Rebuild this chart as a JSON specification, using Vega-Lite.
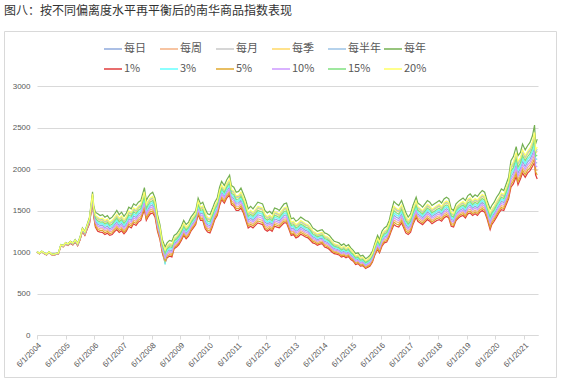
{
"$schema":"https://vega.github.io/schema/vega-lite/v6.json",
"width":552,"height":346,
"autosize":"none",
"padding":{"left":4,"top":31,"right":6,"bottom":7},
"background":"white",
"config":{"view":{"stroke":"#d9d9d9","strokeWidth":1},"font":"Noto Sans CJK SC"},
"title":{"text":"图八：按不同偏离度水平再平衡后的南华商品指数表现","anchor":"start","frame":"group","offset":13,"fontSize":12,"fontWeight":"normal","color":"#333333","font":"Noto Sans CJK SC"},
"data":{"values":[
{"t":"2004-06-01","a":1002,"b":1001,"c":1003,"d":1004,"e":1004,"f":1005,"g":1000,"h":1003,"i":1001,"j":1002,"k":1003,"l":1004},
{"t":"2004-07-01","a":981,"b":979,"c":982,"d":983,"e":983,"f":985,"g":978,"h":982,"i":979,"j":980,"k":982,"l":984},
{"t":"2004-08-01","a":1004,"b":1002,"c":1005,"d":1007,"e":1008,"f":1010,"g":1000,"h":1005,"i":1001,"j":1003,"k":1006,"l":1008},
{"t":"2004-09-01","a":984,"b":982,"c":985,"d":987,"e":988,"f":990,"g":980,"h":985,"i":981,"j":983,"k":986,"l":988},
{"t":"2004-10-01","a":969,"b":967,"c":970,"d":972,"e":973,"f":975,"g":965,"h":970,"i":966,"j":968,"k":971,"l":973},
{"t":"2004-11-01","a":997,"b":995,"c":999,"d":1001,"e":1002,"f":1005,"g":992,"h":999,"i":993,"j":996,"k":1000,"l":1002},
{"t":"2004-12-01","a":973,"b":970,"c":974,"d":976,"e":977,"f":980,"g":968,"h":974,"i":969,"j":972,"k":975,"l":978},
{"t":"2005-01-01","a":967,"b":965,"c":969,"d":971,"e":972,"f":975,"g":962,"h":969,"i":963,"j":966,"k":970,"l":972},
{"t":"2005-02-01","a":976,"b":973,"c":978,"d":981,"e":981,"f":985,"g":970,"h":978,"i":972,"j":975,"k":979,"l":982},
{"t":"2005-03-01","a":981,"b":978,"c":983,"d":986,"e":986,"f":990,"g":975,"h":983,"i":977,"j":980,"k":984,"l":987},
{"t":"2005-04-01","a":1079,"b":1076,"c":1081,"d":1085,"e":1086,"f":1090,"g":1072,"h":1081,"i":1074,"j":1077,"k":1083,"l":1086},
{"t":"2005-05-01","a":1069,"b":1066,"c":1071,"d":1075,"e":1076,"f":1080,"g":1062,"h":1071,"i":1064,"j":1067,"k":1073,"l":1076},
{"t":"2005-06-01","a":1103,"b":1099,"c":1105,"d":1109,"e":1110,"f":1115,"g":1095,"h":1105,"i":1097,"j":1101,"k":1107,"l":1111},
{"t":"2005-07-01","a":1087,"b":1082,"c":1089,"d":1093,"e":1095,"f":1100,"g":1078,"h":1089,"i":1080,"j":1085,"k":1091,"l":1096},
{"t":"2005-08-01","a":1115,"b":1110,"c":1118,"d":1123,"e":1124,"f":1130,"g":1105,"h":1118,"i":1108,"j":1113,"k":1120,"l":1125},
{"t":"2005-09-01","a":1095,"b":1090,"c":1098,"d":1103,"e":1104,"f":1110,"g":1085,"h":1098,"i":1088,"j":1093,"k":1100,"l":1105},
{"t":"2005-10-01","a":1132,"b":1126,"c":1135,"d":1141,"e":1143,"f":1150,"g":1120,"h":1135,"i":1123,"j":1129,"k":1138,"l":1144},
{"t":"2005-11-01","a":1087,"b":1081,"c":1090,"d":1096,"e":1098,"f":1105,"g":1075,"h":1090,"i":1078,"j":1084,"k":1093,"l":1099},
{"t":"2005-12-01","a":1159,"b":1152,"c":1163,"d":1170,"e":1171,"f":1180,"g":1145,"h":1163,"i":1149,"j":1156,"k":1166,"l":1173},
{"t":"2006-01-01","a":1263,"b":1254,"c":1268,"d":1277,"e":1279,"f":1290,"g":1245,"h":1268,"i":1250,"j":1259,"k":1272,"l":1281},
{"t":"2006-02-01","a":1220,"b":1210,"c":1225,"d":1235,"e":1238,"f":1250,"g":1200,"h":1225,"i":1205,"j":1215,"k":1230,"l":1240},
{"t":"2006-03-01","a":1294,"b":1282,"c":1300,"d":1312,"e":1315,"f":1330,"g":1270,"h":1300,"i":1276,"j":1288,"k":1306,"l":1318},
{"t":"2006-04-01","a":1372,"b":1356,"c":1380,"d":1396,"e":1400,"f":1420,"g":1340,"h":1380,"i":1348,"j":1364,"k":1388,"l":1404},
{"t":"2006-05-10","a":1650,"b":1625,"c":1663,"d":1688,"e":1694,"f":1725,"g":1600,"h":1663,"i":1613,"j":1638,"k":1675,"l":1700},
{"t":"2006-05-25","a":1482,"b":1456,"c":1495,"d":1521,"e":1528,"f":1560,"g":1430,"h":1495,"i":1443,"j":1469,"k":1508,"l":1534},
{"t":"2006-06-15","a":1372,"b":1336,"c":1390,"d":1426,"e":1435,"f":1480,"g":1300,"h":1390,"i":1318,"j":1354,"k":1408,"l":1444},
{"t":"2006-07-15","a":1334,"b":1292,"c":1355,"d":1397,"e":1408,"f":1460,"g":1250,"h":1355,"i":1271,"j":1313,"k":1376,"l":1418},
{"t":"2006-08-15","a":1320,"b":1280,"c":1340,"d":1380,"e":1390,"f":1440,"g":1240,"h":1340,"i":1260,"j":1300,"k":1360,"l":1400},
{"t":"2006-09-15","a":1321,"b":1278,"c":1343,"d":1386,"e":1396,"f":1450,"g":1235,"h":1343,"i":1257,"j":1300,"k":1364,"l":1407},
{"t":"2006-10-15","a":1294,"b":1252,"c":1315,"d":1357,"e":1368,"f":1420,"g":1210,"h":1315,"i":1231,"j":1273,"k":1336,"l":1378},
{"t":"2006-11-15","a":1311,"b":1268,"c":1333,"d":1376,"e":1386,"f":1440,"g":1225,"h":1333,"i":1247,"j":1290,"k":1354,"l":1397},
{"t":"2006-12-15","a":1280,"b":1240,"c":1300,"d":1340,"e":1350,"f":1400,"g":1200,"h":1300,"i":1220,"j":1260,"k":1320,"l":1360},
{"t":"2007-01-15","a":1294,"b":1252,"c":1315,"d":1357,"e":1368,"f":1420,"g":1210,"h":1315,"i":1231,"j":1273,"k":1336,"l":1378},
{"t":"2007-02-15","a":1331,"b":1288,"c":1353,"d":1396,"e":1406,"f":1460,"g":1245,"h":1353,"i":1267,"j":1310,"k":1374,"l":1417},
{"t":"2007-03-15","a":1362,"b":1316,"c":1385,"d":1431,"e":1443,"f":1500,"g":1270,"h":1385,"i":1293,"j":1339,"k":1408,"l":1454},
{"t":"2007-04-15","a":1321,"b":1278,"c":1343,"d":1386,"e":1396,"f":1450,"g":1235,"h":1343,"i":1257,"j":1300,"k":1364,"l":1407},
{"t":"2007-05-15","a":1345,"b":1300,"c":1368,"d":1413,"e":1424,"f":1480,"g":1255,"h":1368,"i":1278,"j":1323,"k":1390,"l":1435},
{"t":"2007-06-15","a":1304,"b":1262,"c":1325,"d":1367,"e":1378,"f":1430,"g":1220,"h":1325,"i":1241,"j":1283,"k":1346,"l":1388},
{"t":"2007-07-15","a":1338,"b":1294,"c":1360,"d":1404,"e":1415,"f":1470,"g":1250,"h":1360,"i":1272,"j":1316,"k":1382,"l":1426},
{"t":"2007-08-15","a":1402,"b":1356,"c":1425,"d":1471,"e":1483,"f":1540,"g":1310,"h":1425,"i":1333,"j":1379,"k":1448,"l":1494},
{"t":"2007-09-15","a":1382,"b":1336,"c":1405,"d":1451,"e":1463,"f":1520,"g":1290,"h":1405,"i":1313,"j":1359,"k":1428,"l":1474},
{"t":"2007-10-15","a":1436,"b":1388,"c":1460,"d":1508,"e":1520,"f":1580,"g":1340,"h":1460,"i":1364,"j":1412,"k":1484,"l":1532},
{"t":"2007-11-15","a":1416,"b":1368,"c":1440,"d":1488,"e":1500,"f":1560,"g":1320,"h":1440,"i":1344,"j":1392,"k":1464,"l":1512},
{"t":"2007-12-15","a":1456,"b":1408,"c":1480,"d":1528,"e":1540,"f":1600,"g":1360,"h":1480,"i":1384,"j":1432,"k":1504,"l":1552},
{"t":"2008-01-15","a":1476,"b":1428,"c":1500,"d":1548,"e":1560,"f":1620,"g":1380,"h":1500,"i":1404,"j":1452,"k":1524,"l":1572},
{"t":"2008-03-01","a":1616,"b":1563,"c":1643,"d":1696,"e":1709,"f":1775,"g":1510,"h":1643,"i":1537,"j":1590,"k":1669,"l":1722},
{"t":"2008-03-25","a":1476,"b":1428,"c":1500,"d":1548,"e":1560,"f":1620,"g":1380,"h":1500,"i":1404,"j":1452,"k":1524,"l":1572},
{"t":"2008-04-15","a":1516,"b":1468,"c":1540,"d":1588,"e":1600,"f":1660,"g":1420,"h":1540,"i":1444,"j":1492,"k":1564,"l":1612},
{"t":"2008-05-15","a":1556,"b":1508,"c":1580,"d":1628,"e":1640,"f":1700,"g":1460,"h":1580,"i":1484,"j":1532,"k":1604,"l":1652},
{"t":"2008-06-15","a":1570,"b":1520,"c":1595,"d":1645,"e":1658,"f":1720,"g":1470,"h":1595,"i":1495,"j":1545,"k":1620,"l":1670},
{"t":"2008-07-15","a":1512,"b":1466,"c":1535,"d":1581,"e":1593,"f":1650,"g":1420,"h":1535,"i":1443,"j":1489,"k":1558,"l":1604},
{"t":"2008-08-15","a":1330,"b":1290,"c":1350,"d":1390,"e":1400,"f":1450,"g":1250,"h":1350,"i":1270,"j":1310,"k":1370,"l":1410},
{"t":"2008-09-15","a":1222,"b":1186,"c":1240,"d":1276,"e":1285,"f":1330,"g":1150,"h":1240,"i":1168,"j":1204,"k":1258,"l":1294},
{"t":"2008-10-15","a":1054,"b":1022,"c":1070,"d":1102,"e":1110,"f":1150,"g":990,"h":1070,"i":1006,"j":1038,"k":1086,"l":1118},
{"t":"2008-11-20","a":946,"b":908,"c":965,"d":1003,"e":1013,"f":1060,"g":870,"h":850,"i":889,"j":927,"k":984,"l":1022},
{"t":"2008-12-15","a":1002,"b":966,"c":1020,"d":1056,"e":1065,"f":1110,"g":930,"h":1020,"i":948,"j":984,"k":1038,"l":1074},
{"t":"2009-01-15","a":1026,"b":988,"c":1045,"d":1083,"e":1093,"f":1140,"g":950,"h":1045,"i":969,"j":1007,"k":1064,"l":1102},
{"t":"2009-02-15","a":1016,"b":978,"c":1035,"d":1073,"e":1083,"f":1130,"g":940,"h":1035,"i":959,"j":997,"k":1054,"l":1092},
{"t":"2009-03-15","a":1104,"b":1072,"c":1120,"d":1152,"e":1160,"f":1200,"g":1040,"h":1120,"i":1056,"j":1088,"k":1136,"l":1168},
{"t":"2009-04-15","a":1124,"b":1092,"c":1140,"d":1172,"e":1180,"f":1220,"g":1060,"h":1140,"i":1076,"j":1108,"k":1156,"l":1188},
{"t":"2009-05-15","a":1158,"b":1124,"c":1175,"d":1209,"e":1218,"f":1260,"g":1090,"h":1175,"i":1107,"j":1141,"k":1192,"l":1226},
{"t":"2009-06-15","a":1208,"b":1174,"c":1225,"d":1259,"e":1268,"f":1310,"g":1140,"h":1225,"i":1157,"j":1191,"k":1242,"l":1276},
{"t":"2009-07-15","a":1272,"b":1236,"c":1290,"d":1326,"e":1335,"f":1380,"g":1200,"h":1290,"i":1218,"j":1254,"k":1308,"l":1344},
{"t":"2009-08-15","a":1228,"b":1194,"c":1245,"d":1279,"e":1288,"f":1330,"g":1160,"h":1245,"i":1177,"j":1211,"k":1262,"l":1296},
{"t":"2009-09-15","a":1258,"b":1224,"c":1275,"d":1309,"e":1318,"f":1360,"g":1190,"h":1275,"i":1207,"j":1241,"k":1292,"l":1326},
{"t":"2009-10-15","a":1318,"b":1284,"c":1335,"d":1369,"e":1378,"f":1420,"g":1250,"h":1335,"i":1267,"j":1301,"k":1352,"l":1386},
{"t":"2009-11-15","a":1358,"b":1324,"c":1375,"d":1409,"e":1418,"f":1460,"g":1290,"h":1375,"i":1307,"j":1341,"k":1392,"l":1426},
{"t":"2009-12-15","a":1398,"b":1364,"c":1415,"d":1449,"e":1458,"f":1500,"g":1330,"h":1415,"i":1347,"j":1381,"k":1432,"l":1466},
{"t":"2010-01-15","a":1530,"b":1490,"c":1550,"d":1590,"e":1600,"f":1650,"g":1450,"h":1550,"i":1470,"j":1510,"k":1570,"l":1610},
{"t":"2010-02-15","a":1460,"b":1420,"c":1480,"d":1520,"e":1530,"f":1580,"g":1380,"h":1480,"i":1400,"j":1440,"k":1500,"l":1540},
{"t":"2010-03-15","a":1468,"b":1424,"c":1490,"d":1534,"e":1545,"f":1600,"g":1380,"h":1490,"i":1402,"j":1446,"k":1512,"l":1556},
{"t":"2010-04-15","a":1376,"b":1328,"c":1400,"d":1448,"e":1460,"f":1520,"g":1280,"h":1400,"i":1304,"j":1352,"k":1424,"l":1472},
{"t":"2010-05-15","a":1328,"b":1284,"c":1350,"d":1394,"e":1405,"f":1460,"g":1240,"h":1350,"i":1262,"j":1306,"k":1372,"l":1416},
{"t":"2010-06-15","a":1318,"b":1274,"c":1340,"d":1384,"e":1395,"f":1450,"g":1230,"h":1340,"i":1252,"j":1296,"k":1362,"l":1406},
{"t":"2010-07-15","a":1388,"b":1344,"c":1410,"d":1454,"e":1465,"f":1520,"g":1300,"h":1410,"i":1322,"j":1366,"k":1432,"l":1476},
{"t":"2010-08-15","a":1474,"b":1432,"c":1495,"d":1537,"e":1548,"f":1600,"g":1390,"h":1495,"i":1411,"j":1453,"k":1516,"l":1558},
{"t":"2010-09-15","a":1524,"b":1482,"c":1545,"d":1587,"e":1598,"f":1650,"g":1440,"h":1545,"i":1461,"j":1503,"k":1566,"l":1608},
{"t":"2010-10-15","a":1648,"b":1604,"c":1670,"d":1714,"e":1725,"f":1780,"g":1560,"h":1670,"i":1582,"j":1626,"k":1692,"l":1736},
{"t":"2010-11-10","a":1718,"b":1674,"c":1740,"d":1784,"e":1795,"f":1850,"g":1630,"h":1740,"i":1652,"j":1696,"k":1762,"l":1806},
{"t":"2010-12-15","a":1674,"b":1632,"c":1695,"d":1737,"e":1748,"f":1800,"g":1590,"h":1695,"i":1611,"j":1653,"k":1716,"l":1758},
{"t":"2011-01-15","a":1738,"b":1694,"c":1760,"d":1804,"e":1815,"f":1870,"g":1650,"h":1760,"i":1672,"j":1716,"k":1782,"l":1826},
{"t":"2011-02-20","a":1784,"b":1737,"c":1808,"d":1855,"e":1866,"f":1925,"g":1690,"h":1808,"i":1714,"j":1761,"k":1831,"l":1878},
{"t":"2011-03-15","a":1662,"b":1616,"c":1685,"d":1731,"e":1743,"f":1800,"g":1570,"h":1685,"i":1593,"j":1639,"k":1708,"l":1754},
{"t":"2011-04-15","a":1642,"b":1596,"c":1665,"d":1711,"e":1723,"f":1780,"g":1550,"h":1665,"i":1573,"j":1619,"k":1688,"l":1734},
{"t":"2011-05-15","a":1588,"b":1544,"c":1610,"d":1654,"e":1665,"f":1720,"g":1500,"h":1610,"i":1522,"j":1566,"k":1632,"l":1676},
{"t":"2011-06-15","a":1592,"b":1546,"c":1615,"d":1661,"e":1673,"f":1730,"g":1500,"h":1615,"i":1523,"j":1569,"k":1638,"l":1684},
{"t":"2011-07-15","a":1626,"b":1578,"c":1650,"d":1698,"e":1710,"f":1770,"g":1530,"h":1650,"i":1554,"j":1602,"k":1674,"l":1722},
{"t":"2011-08-15","a":1562,"b":1516,"c":1585,"d":1631,"e":1643,"f":1700,"g":1470,"h":1585,"i":1493,"j":1539,"k":1608,"l":1654},
{"t":"2011-09-15","a":1476,"b":1428,"c":1500,"d":1548,"e":1560,"f":1620,"g":1380,"h":1500,"i":1404,"j":1452,"k":1524,"l":1572},
{"t":"2011-10-15","a":1382,"b":1336,"c":1405,"d":1451,"e":1463,"f":1520,"g":1290,"h":1405,"i":1313,"j":1359,"k":1428,"l":1474},
{"t":"2011-11-15","a":1406,"b":1358,"c":1430,"d":1478,"e":1490,"f":1550,"g":1310,"h":1430,"i":1334,"j":1382,"k":1454,"l":1502},
{"t":"2011-12-15","a":1382,"b":1336,"c":1405,"d":1451,"e":1463,"f":1520,"g":1290,"h":1405,"i":1313,"j":1359,"k":1428,"l":1474},
{"t":"2012-01-15","a":1416,"b":1368,"c":1440,"d":1488,"e":1500,"f":1560,"g":1320,"h":1440,"i":1344,"j":1392,"k":1464,"l":1512},
{"t":"2012-02-15","a":1450,"b":1400,"c":1475,"d":1525,"e":1538,"f":1600,"g":1350,"h":1475,"i":1375,"j":1425,"k":1500,"l":1550},
{"t":"2012-03-15","a":1440,"b":1390,"c":1465,"d":1515,"e":1528,"f":1590,"g":1340,"h":1465,"i":1365,"j":1415,"k":1490,"l":1540},
{"t":"2012-04-15","a":1430,"b":1380,"c":1455,"d":1505,"e":1518,"f":1580,"g":1330,"h":1455,"i":1355,"j":1405,"k":1480,"l":1530},
{"t":"2012-05-15","a":1362,"b":1316,"c":1385,"d":1431,"e":1443,"f":1500,"g":1270,"h":1385,"i":1293,"j":1339,"k":1408,"l":1454},
{"t":"2012-06-15","a":1338,"b":1294,"c":1360,"d":1404,"e":1415,"f":1470,"g":1250,"h":1360,"i":1272,"j":1316,"k":1382,"l":1426},
{"t":"2012-07-15","a":1358,"b":1314,"c":1380,"d":1424,"e":1435,"f":1490,"g":1270,"h":1380,"i":1292,"j":1336,"k":1402,"l":1446},
{"t":"2012-08-15","a":1334,"b":1292,"c":1355,"d":1397,"e":1408,"f":1460,"g":1250,"h":1355,"i":1271,"j":1313,"k":1376,"l":1418},
{"t":"2012-09-15","a":1398,"b":1354,"c":1420,"d":1464,"e":1475,"f":1530,"g":1310,"h":1420,"i":1332,"j":1376,"k":1442,"l":1486},
{"t":"2012-10-15","a":1388,"b":1344,"c":1410,"d":1454,"e":1465,"f":1520,"g":1300,"h":1410,"i":1322,"j":1366,"k":1432,"l":1476},
{"t":"2012-11-15","a":1374,"b":1332,"c":1395,"d":1437,"e":1448,"f":1500,"g":1290,"h":1395,"i":1311,"j":1353,"k":1416,"l":1458},
{"t":"2012-12-15","a":1408,"b":1364,"c":1430,"d":1474,"e":1485,"f":1540,"g":1320,"h":1430,"i":1342,"j":1386,"k":1452,"l":1496},
{"t":"2013-01-15","a":1442,"b":1396,"c":1465,"d":1511,"e":1523,"f":1580,"g":1350,"h":1465,"i":1373,"j":1419,"k":1488,"l":1534},
{"t":"2013-02-15","a":1446,"b":1398,"c":1470,"d":1518,"e":1530,"f":1590,"g":1350,"h":1470,"i":1374,"j":1422,"k":1494,"l":1542},
{"t":"2013-03-15","a":1368,"b":1324,"c":1390,"d":1434,"e":1445,"f":1500,"g":1280,"h":1390,"i":1302,"j":1346,"k":1412,"l":1456},
{"t":"2013-04-15","a":1280,"b":1240,"c":1300,"d":1340,"e":1350,"f":1400,"g":1200,"h":1300,"i":1220,"j":1260,"k":1320,"l":1360},
{"t":"2013-05-15","a":1290,"b":1250,"c":1310,"d":1350,"e":1360,"f":1410,"g":1210,"h":1310,"i":1230,"j":1270,"k":1330,"l":1370},
{"t":"2013-06-15","a":1250,"b":1210,"c":1270,"d":1310,"e":1320,"f":1370,"g":1170,"h":1270,"i":1190,"j":1230,"k":1290,"l":1330},
{"t":"2013-07-15","a":1267,"b":1226,"c":1288,"d":1329,"e":1339,"f":1390,"g":1185,"h":1288,"i":1206,"j":1247,"k":1308,"l":1349},
{"t":"2013-08-15","a":1297,"b":1256,"c":1318,"d":1359,"e":1369,"f":1420,"g":1215,"h":1318,"i":1236,"j":1277,"k":1338,"l":1379},
{"t":"2013-09-15","a":1280,"b":1240,"c":1300,"d":1340,"e":1350,"f":1400,"g":1200,"h":1300,"i":1220,"j":1260,"k":1320,"l":1360},
{"t":"2013-10-15","a":1260,"b":1220,"c":1280,"d":1320,"e":1330,"f":1380,"g":1180,"h":1280,"i":1200,"j":1240,"k":1300,"l":1340},
{"t":"2013-11-15","a":1250,"b":1210,"c":1270,"d":1310,"e":1320,"f":1370,"g":1170,"h":1270,"i":1190,"j":1230,"k":1290,"l":1330},
{"t":"2013-12-15","a":1220,"b":1180,"c":1240,"d":1280,"e":1290,"f":1340,"g":1140,"h":1240,"i":1160,"j":1200,"k":1260,"l":1300},
{"t":"2014-01-15","a":1182,"b":1146,"c":1200,"d":1236,"e":1245,"f":1290,"g":1110,"h":1200,"i":1128,"j":1164,"k":1218,"l":1254},
{"t":"2014-02-15","a":1168,"b":1134,"c":1185,"d":1219,"e":1228,"f":1270,"g":1100,"h":1185,"i":1117,"j":1151,"k":1202,"l":1236},
{"t":"2014-03-15","a":1148,"b":1114,"c":1165,"d":1199,"e":1208,"f":1250,"g":1080,"h":1165,"i":1097,"j":1131,"k":1182,"l":1216},
{"t":"2014-04-15","a":1161,"b":1128,"c":1178,"d":1211,"e":1219,"f":1260,"g":1095,"h":1178,"i":1112,"j":1145,"k":1194,"l":1227},
{"t":"2014-05-15","a":1168,"b":1134,"c":1185,"d":1219,"e":1228,"f":1270,"g":1100,"h":1185,"i":1117,"j":1151,"k":1202,"l":1236},
{"t":"2014-06-15","a":1128,"b":1094,"c":1145,"d":1179,"e":1188,"f":1230,"g":1060,"h":1145,"i":1077,"j":1111,"k":1162,"l":1196},
{"t":"2014-07-15","a":1118,"b":1084,"c":1135,"d":1169,"e":1178,"f":1220,"g":1050,"h":1135,"i":1067,"j":1101,"k":1152,"l":1186},
{"t":"2014-08-15","a":1098,"b":1064,"c":1115,"d":1149,"e":1158,"f":1200,"g":1030,"h":1115,"i":1047,"j":1081,"k":1132,"l":1166},
{"t":"2014-09-15","a":1064,"b":1032,"c":1080,"d":1112,"e":1120,"f":1160,"g":1000,"h":1080,"i":1016,"j":1048,"k":1096,"l":1128},
{"t":"2014-10-15","a":1040,"b":1010,"c":1055,"d":1085,"e":1093,"f":1130,"g":980,"h":1055,"i":995,"j":1025,"k":1070,"l":1100},
{"t":"2014-11-15","a":1033,"b":1004,"c":1048,"d":1077,"e":1084,"f":1120,"g":975,"h":1048,"i":990,"j":1019,"k":1062,"l":1091},
{"t":"2014-12-15","a":1023,"b":994,"c":1038,"d":1067,"e":1074,"f":1110,"g":965,"h":1038,"i":980,"j":1009,"k":1052,"l":1081},
{"t":"2015-01-15","a":996,"b":968,"c":1010,"d":1038,"e":1045,"f":1080,"g":940,"h":1010,"i":954,"j":982,"k":1024,"l":1052},
{"t":"2015-02-15","a":1010,"b":980,"c":1025,"d":1055,"e":1063,"f":1100,"g":950,"h":1025,"i":965,"j":995,"k":1040,"l":1070},
{"t":"2015-03-15","a":986,"b":958,"c":1000,"d":1028,"e":1035,"f":1070,"g":930,"h":1000,"i":944,"j":972,"k":1014,"l":1042},
{"t":"2015-04-15","a":1003,"b":974,"c":1018,"d":1047,"e":1054,"f":1090,"g":945,"h":1018,"i":960,"j":989,"k":1032,"l":1061},
{"t":"2015-05-15","a":966,"b":938,"c":980,"d":1008,"e":1015,"f":1050,"g":910,"h":980,"i":924,"j":952,"k":994,"l":1022},
{"t":"2015-06-15","a":942,"b":916,"c":955,"d":981,"e":988,"f":1020,"g":890,"h":955,"i":903,"j":929,"k":968,"l":994},
{"t":"2015-07-15","a":902,"b":876,"c":915,"d":941,"e":948,"f":980,"g":850,"h":915,"i":863,"j":889,"k":928,"l":954},
{"t":"2015-08-15","a":912,"b":886,"c":925,"d":951,"e":958,"f":990,"g":860,"h":925,"i":873,"j":899,"k":938,"l":964},
{"t":"2015-09-15","a":878,"b":854,"c":890,"d":914,"e":920,"f":950,"g":830,"h":890,"i":842,"j":866,"k":902,"l":926},
{"t":"2015-10-15","a":885,"b":860,"c":898,"d":923,"e":929,"f":960,"g":835,"h":898,"i":848,"j":873,"k":910,"l":935},
{"t":"2015-11-20","a":848,"b":824,"c":860,"d":884,"e":890,"f":920,"g":800,"h":860,"i":812,"j":836,"k":872,"l":896},
{"t":"2015-12-15","a":863,"b":839,"c":875,"d":899,"e":905,"f":935,"g":815,"h":875,"i":827,"j":851,"k":887,"l":911},
{"t":"2016-01-15","a":882,"b":856,"c":895,"d":921,"e":928,"f":960,"g":830,"h":895,"i":843,"j":869,"k":908,"l":934},
{"t":"2016-02-15","a":932,"b":906,"c":945,"d":971,"e":978,"f":1010,"g":880,"h":945,"i":893,"j":919,"k":958,"l":984},
{"t":"2016-03-15","a":1016,"b":988,"c":1030,"d":1058,"e":1065,"f":1100,"g":960,"h":1030,"i":974,"j":1002,"k":1044,"l":1072},
{"t":"2016-04-20","a":1098,"b":1064,"c":1115,"d":1149,"e":1158,"f":1200,"g":1030,"h":1115,"i":1047,"j":1081,"k":1132,"l":1166},
{"t":"2016-05-15","a":1054,"b":1022,"c":1070,"d":1102,"e":1110,"f":1150,"g":990,"h":1070,"i":1006,"j":1038,"k":1086,"l":1118},
{"t":"2016-06-15","a":1142,"b":1106,"c":1160,"d":1196,"e":1205,"f":1250,"g":1070,"h":1160,"i":1088,"j":1124,"k":1178,"l":1214},
{"t":"2016-07-15","a":1182,"b":1146,"c":1200,"d":1236,"e":1245,"f":1290,"g":1110,"h":1200,"i":1128,"j":1164,"k":1218,"l":1254},
{"t":"2016-08-15","a":1196,"b":1158,"c":1215,"d":1253,"e":1263,"f":1310,"g":1120,"h":1215,"i":1139,"j":1177,"k":1234,"l":1272},
{"t":"2016-09-15","a":1260,"b":1220,"c":1280,"d":1320,"e":1330,"f":1380,"g":1180,"h":1280,"i":1200,"j":1240,"k":1300,"l":1340},
{"t":"2016-10-15","a":1356,"b":1308,"c":1380,"d":1428,"e":1440,"f":1500,"g":1260,"h":1380,"i":1284,"j":1332,"k":1404,"l":1452},
{"t":"2016-11-15","a":1442,"b":1386,"c":1470,"d":1526,"e":1540,"f":1610,"g":1330,"h":1470,"i":1358,"j":1414,"k":1498,"l":1554},
{"t":"2016-12-15","a":1418,"b":1364,"c":1445,"d":1499,"e":1513,"f":1580,"g":1310,"h":1445,"i":1337,"j":1391,"k":1472,"l":1526},
{"t":"2017-01-15","a":1404,"b":1352,"c":1430,"d":1482,"e":1495,"f":1560,"g":1300,"h":1430,"i":1326,"j":1378,"k":1456,"l":1508},
{"t":"2017-02-20","a":1458,"b":1404,"c":1485,"d":1539,"e":1553,"f":1620,"g":1350,"h":1485,"i":1377,"j":1431,"k":1512,"l":1566},
{"t":"2017-03-15","a":1404,"b":1352,"c":1430,"d":1482,"e":1495,"f":1560,"g":1300,"h":1430,"i":1326,"j":1378,"k":1456,"l":1508},
{"t":"2017-04-15","a":1330,"b":1280,"c":1355,"d":1405,"e":1418,"f":1480,"g":1230,"h":1355,"i":1255,"j":1305,"k":1380,"l":1430},
{"t":"2017-05-15","a":1294,"b":1252,"c":1315,"d":1357,"e":1368,"f":1420,"g":1210,"h":1315,"i":1231,"j":1273,"k":1336,"l":1378},
{"t":"2017-06-15","a":1328,"b":1284,"c":1350,"d":1394,"e":1405,"f":1460,"g":1240,"h":1350,"i":1262,"j":1306,"k":1372,"l":1416},
{"t":"2017-07-15","a":1422,"b":1376,"c":1445,"d":1491,"e":1503,"f":1560,"g":1330,"h":1445,"i":1353,"j":1399,"k":1468,"l":1514},
{"t":"2017-08-25","a":1516,"b":1468,"c":1540,"d":1588,"e":1600,"f":1660,"g":1420,"h":1540,"i":1444,"j":1492,"k":1564,"l":1612},
{"t":"2017-09-15","a":1458,"b":1414,"c":1480,"d":1524,"e":1535,"f":1590,"g":1370,"h":1480,"i":1392,"j":1436,"k":1502,"l":1546},
{"t":"2017-10-15","a":1438,"b":1394,"c":1460,"d":1504,"e":1515,"f":1570,"g":1350,"h":1460,"i":1372,"j":1416,"k":1482,"l":1526},
{"t":"2017-11-15","a":1414,"b":1372,"c":1435,"d":1477,"e":1488,"f":1540,"g":1330,"h":1435,"i":1351,"j":1393,"k":1456,"l":1498},
{"t":"2017-12-15","a":1448,"b":1404,"c":1470,"d":1514,"e":1525,"f":1580,"g":1360,"h":1470,"i":1382,"j":1426,"k":1492,"l":1536},
{"t":"2018-01-15","a":1482,"b":1436,"c":1505,"d":1551,"e":1563,"f":1620,"g":1390,"h":1505,"i":1413,"j":1459,"k":1528,"l":1574},
{"t":"2018-02-15","a":1462,"b":1416,"c":1485,"d":1531,"e":1543,"f":1600,"g":1370,"h":1485,"i":1393,"j":1439,"k":1508,"l":1554},
{"t":"2018-03-15","a":1428,"b":1384,"c":1450,"d":1494,"e":1505,"f":1560,"g":1340,"h":1450,"i":1362,"j":1406,"k":1472,"l":1516},
{"t":"2018-04-15","a":1448,"b":1404,"c":1470,"d":1514,"e":1525,"f":1580,"g":1360,"h":1470,"i":1382,"j":1426,"k":1492,"l":1536},
{"t":"2018-05-15","a":1468,"b":1424,"c":1490,"d":1534,"e":1545,"f":1600,"g":1380,"h":1490,"i":1402,"j":1446,"k":1512,"l":1556},
{"t":"2018-06-15","a":1482,"b":1436,"c":1505,"d":1551,"e":1563,"f":1620,"g":1390,"h":1505,"i":1413,"j":1459,"k":1528,"l":1574},
{"t":"2018-07-15","a":1458,"b":1414,"c":1480,"d":1524,"e":1535,"f":1590,"g":1370,"h":1480,"i":1392,"j":1436,"k":1502,"l":1546},
{"t":"2018-08-15","a":1502,"b":1456,"c":1525,"d":1571,"e":1583,"f":1640,"g":1410,"h":1525,"i":1433,"j":1479,"k":1548,"l":1594},
{"t":"2018-09-15","a":1522,"b":1476,"c":1545,"d":1591,"e":1603,"f":1660,"g":1430,"h":1545,"i":1453,"j":1499,"k":1568,"l":1614},
{"t":"2018-10-15","a":1502,"b":1456,"c":1525,"d":1571,"e":1583,"f":1640,"g":1410,"h":1525,"i":1433,"j":1479,"k":1548,"l":1594},
{"t":"2018-11-15","a":1394,"b":1352,"c":1415,"d":1457,"e":1468,"f":1520,"g":1310,"h":1415,"i":1331,"j":1373,"k":1436,"l":1478},
{"t":"2018-12-15","a":1380,"b":1340,"c":1400,"d":1440,"e":1450,"f":1500,"g":1300,"h":1400,"i":1320,"j":1360,"k":1420,"l":1460},
{"t":"2019-01-15","a":1460,"b":1420,"c":1480,"d":1520,"e":1530,"f":1580,"g":1380,"h":1480,"i":1400,"j":1440,"k":1500,"l":1540},
{"t":"2019-02-15","a":1490,"b":1450,"c":1510,"d":1550,"e":1560,"f":1610,"g":1410,"h":1510,"i":1430,"j":1470,"k":1530,"l":1570},
{"t":"2019-03-15","a":1510,"b":1470,"c":1530,"d":1570,"e":1580,"f":1630,"g":1430,"h":1530,"i":1450,"j":1490,"k":1550,"l":1590},
{"t":"2019-04-15","a":1524,"b":1482,"c":1545,"d":1587,"e":1598,"f":1650,"g":1440,"h":1545,"i":1461,"j":1503,"k":1566,"l":1608},
{"t":"2019-05-15","a":1494,"b":1452,"c":1515,"d":1557,"e":1568,"f":1620,"g":1410,"h":1515,"i":1431,"j":1473,"k":1536,"l":1578},
{"t":"2019-06-15","a":1548,"b":1504,"c":1570,"d":1614,"e":1625,"f":1680,"g":1460,"h":1570,"i":1482,"j":1526,"k":1592,"l":1636},
{"t":"2019-07-15","a":1562,"b":1516,"c":1585,"d":1631,"e":1643,"f":1700,"g":1470,"h":1585,"i":1493,"j":1539,"k":1608,"l":1654},
{"t":"2019-08-15","a":1528,"b":1484,"c":1550,"d":1594,"e":1605,"f":1660,"g":1440,"h":1550,"i":1462,"j":1506,"k":1572,"l":1616},
{"t":"2019-09-15","a":1552,"b":1506,"c":1575,"d":1621,"e":1633,"f":1690,"g":1460,"h":1575,"i":1483,"j":1529,"k":1598,"l":1644},
{"t":"2019-10-15","a":1532,"b":1486,"c":1555,"d":1601,"e":1613,"f":1670,"g":1440,"h":1555,"i":1463,"j":1509,"k":1578,"l":1624},
{"t":"2019-11-15","a":1572,"b":1526,"c":1595,"d":1641,"e":1653,"f":1710,"g":1480,"h":1595,"i":1503,"j":1549,"k":1618,"l":1664},
{"t":"2019-12-15","a":1596,"b":1548,"c":1620,"d":1668,"e":1680,"f":1740,"g":1500,"h":1620,"i":1524,"j":1572,"k":1644,"l":1692},
{"t":"2020-01-15","a":1576,"b":1528,"c":1600,"d":1648,"e":1660,"f":1720,"g":1480,"h":1600,"i":1504,"j":1552,"k":1624,"l":1672},
{"t":"2020-02-15","a":1488,"b":1444,"c":1510,"d":1554,"e":1565,"f":1620,"g":1400,"h":1510,"i":1422,"j":1466,"k":1532,"l":1576},
{"t":"2020-03-25","a":1370,"b":1320,"c":1395,"d":1445,"e":1458,"f":1520,"g":1270,"h":1395,"i":1295,"j":1345,"k":1420,"l":1470},
{"t":"2020-04-15","a":1422,"b":1376,"c":1445,"d":1491,"e":1503,"f":1560,"g":1330,"h":1445,"i":1353,"j":1399,"k":1468,"l":1514},
{"t":"2020-05-15","a":1462,"b":1416,"c":1485,"d":1531,"e":1543,"f":1600,"g":1370,"h":1485,"i":1393,"j":1439,"k":1508,"l":1554},
{"t":"2020-06-15","a":1516,"b":1468,"c":1540,"d":1588,"e":1600,"f":1660,"g":1420,"h":1540,"i":1444,"j":1492,"k":1564,"l":1612},
{"t":"2020-07-15","a":1562,"b":1516,"c":1585,"d":1631,"e":1643,"f":1700,"g":1470,"h":1585,"i":1493,"j":1539,"k":1608,"l":1654},
{"t":"2020-08-15","a":1610,"b":1560,"c":1635,"d":1685,"e":1698,"f":1760,"g":1510,"h":1635,"i":1535,"j":1585,"k":1660,"l":1710},
{"t":"2020-09-15","a":1596,"b":1548,"c":1620,"d":1668,"e":1680,"f":1740,"g":1500,"h":1620,"i":1524,"j":1572,"k":1644,"l":1692},
{"t":"2020-10-15","a":1670,"b":1620,"c":1695,"d":1745,"e":1758,"f":1820,"g":1570,"h":1695,"i":1595,"j":1645,"k":1720,"l":1770},
{"t":"2020-11-15","a":1744,"b":1692,"c":1770,"d":1822,"e":1835,"f":1900,"g":1640,"h":1770,"i":1666,"j":1718,"k":1796,"l":1848},
{"t":"2020-12-15","a":1908,"b":1844,"c":1940,"d":2004,"e":2020,"f":2100,"g":1780,"h":1940,"i":1812,"j":1876,"k":1972,"l":2036},
{"t":"2021-01-15","a":1952,"b":1886,"c":1985,"d":2051,"e":2068,"f":2150,"g":1820,"h":1985,"i":1853,"j":1919,"k":2018,"l":2084},
{"t":"2021-02-20","a":2054,"b":1982,"c":2090,"d":2162,"e":2180,"f":2270,"g":1910,"h":2090,"i":1946,"j":2018,"k":2126,"l":2198},
{"t":"2021-03-15","a":1950,"b":1880,"c":1985,"d":2055,"e":2073,"f":2160,"g":1810,"h":1985,"i":1845,"j":1915,"k":2020,"l":2090},
{"t":"2021-04-15","a":2008,"b":1944,"c":2040,"d":2104,"e":2120,"f":2200,"g":1880,"h":2040,"i":1912,"j":1976,"k":2072,"l":2136},
{"t":"2021-05-12","a":2090,"b":2020,"c":2125,"d":2195,"e":2213,"f":2300,"g":1950,"h":2125,"i":1985,"j":2055,"k":2160,"l":2230},
{"t":"2021-06-15","a":2032,"b":1966,"c":2065,"d":2131,"e":2148,"f":2230,"g":1900,"h":2065,"i":1933,"j":1999,"k":2098,"l":2164},
{"t":"2021-07-15","a":2082,"b":2016,"c":2115,"d":2181,"e":2198,"f":2280,"g":1950,"h":2115,"i":1983,"j":2049,"k":2148,"l":2214},
{"t":"2021-08-15","a":2116,"b":2048,"c":2150,"d":2218,"e":2235,"f":2320,"g":1980,"h":2150,"i":2014,"j":2082,"k":2184,"l":2252},
{"t":"2021-09-15","a":2178,"b":2104,"c":2215,"d":2289,"e":2308,"f":2400,"g":2030,"h":2215,"i":2067,"j":2141,"k":2252,"l":2326},
{"t":"2021-10-12","a":2260,"b":2170,"c":2305,"d":2395,"e":2418,"f":2530,"g":2080,"h":2305,"i":2125,"j":2215,"k":2350,"l":2440},
{"t":"2021-10-25","a":2078,"b":2004,"c":2115,"d":2189,"e":2208,"f":2300,"g":1930,"h":2115,"i":1967,"j":2041,"k":2152,"l":2226},
{"t":"2021-11-15","a":2072,"b":1976,"c":2120,"d":2216,"e":2240,"f":2360,"g":1880,"h":2120,"i":1928,"j":2024,"k":2168,"l":2264}
]},
"transform":[{"fold":["a","b","c","d","e","f","g","h","i","j","k","l"],"as":["s","v"]}],
"mark":{"type":"line","strokeWidth":1.2,"clip":false},
"encoding":{
"x":{"field":"t","type":"temporal",
"scale":{"type":"utc","domain":[{"year":2004,"month":6,"date":1,"utc":true},{"year":2021,"month":11,"date":25,"utc":true}],"range":[33,534]},
"axis":{"title":null,"grid":false,"offset":-42,
"values":[{"year":2004,"month":6,"date":1,"utc":true},{"year":2005,"month":6,"date":1,"utc":true},{"year":2006,"month":6,"date":1,"utc":true},{"year":2007,"month":6,"date":1,"utc":true},{"year":2008,"month":6,"date":1,"utc":true},{"year":2009,"month":6,"date":1,"utc":true},{"year":2010,"month":6,"date":1,"utc":true},{"year":2011,"month":6,"date":1,"utc":true},{"year":2012,"month":6,"date":1,"utc":true},{"year":2013,"month":6,"date":1,"utc":true},{"year":2014,"month":6,"date":1,"utc":true},{"year":2015,"month":6,"date":1,"utc":true},{"year":2016,"month":6,"date":1,"utc":true},{"year":2017,"month":6,"date":1,"utc":true},{"year":2018,"month":6,"date":1,"utc":true},{"year":2019,"month":6,"date":1,"utc":true},{"year":2020,"month":6,"date":1,"utc":true},{"year":2021,"month":6,"date":1,"utc":true}],
"format":"%-m/%-d/%Y","labelAngle":-45,"labelFontSize":8,"labelColor":"#595959","labelFont":"Liberation Sans","labelPadding":2,
"domainColor":"#d9d9d9","tickColor":"#d9d9d9","tickSize":4,"labelOverlap":false,"labelFlush":false}},
"y":{"field":"v","type":"quantitative",
"scale":{"domain":[0,3000],"range":[304,55]},
"axis":{"title":null,"values":[0,500,1000,1500,2000,2500,3000],"format":"d","grid":true,"gridColor":"#d9d9d9","domain":false,"ticks":false,"offset":-33,"labelPadding":7,"labelFontSize":8,"labelColor":"#595959","labelFont":"Liberation Sans"}},
"color":{"field":"s","type":"nominal",
"scale":{"domain":["a","b","c","d","e","f","g","h","i","j","k","l"],"range":["#8faadc","#f4b183","#c9c9c9","#ffd966","#9dc3e6","#74b052","#e03c3c","#66ffff","#e0a82e","#cc99ff","#7fe07f","#ffff66"]},
"legend":{"orient":"none","legendX":99,"legendY":8,"direction":"horizontal","columns":6,"title":null,
"symbolType":"stroke","symbolSize":324,"symbolStrokeWidth":1.5,"labelFontSize":11,"labelColor":"#595959","labelFont":"Noto Sans CJK SC","labelOffset":1,
"columnPadding":0,"rowPadding":5,"gridAlign":"all",
"labelExpr":"{'a':'每日','b':'每周','c':'每月','d':'每季','e':'每半年','f':'每年','g':'1%','h':'3%','i':'5%','j':'10%','k':'15%','l':'20%'}[datum.value]"}}
}
}
